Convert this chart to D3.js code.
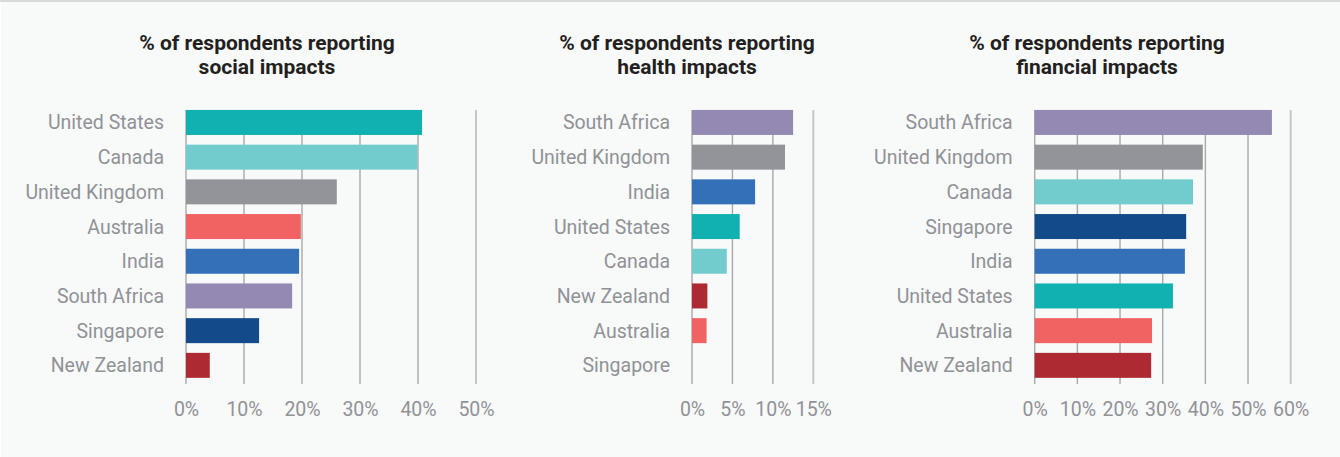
<!DOCTYPE html>
<html>
<head>
<meta charset="utf-8">
<script src="https://cdn.jsdelivr.net/npm/d3@7"></script>
<style>
  body { margin: 0; background: #fff; }
  svg { display: block; font-family: Roboto, "Noto Sans", sans-serif; }
</style>
</head>
<body>
<div class="chart"></div>
<script>
// data (percent of respondents)
var socialCountries = ["United States", "Canada", "United Kingdom", "Australia", "India", "South Africa", "Singapore", "New Zealand"];
var socialValues = [40.7, 39.9, 26.0, 19.8, 19.5, 18.3, 12.6, 4.1];

var healthCountries = ["South Africa", "United Kingdom", "India", "United States", "Canada", "New Zealand", "Australia", "Singapore"];
var healthValues = [12.5, 11.5, 7.8, 5.9, 4.3, 1.9, 1.8, 0];

var financialCountries = ["South Africa", "United Kingdom", "Canada", "Singapore", "India", "United States", "Australia", "New Zealand"];
var financialValues = [55.6, 39.4, 37.1, 35.5, 35.2, 32.4, 27.5, 27.3];

var socialTicks = [0, 10, 20, 30, 40, 50];
var healthTicks = [0, 5, 10, 15];
var financialTicks = [0, 10, 20, 30, 40, 50, 60];

var countryColor = {
  "United States": "#12b1b1",
  "Canada": "#72cccd",
  "United Kingdom": "#939499",
  "Australia": "#f16262",
  "India": "#3470b7",
  "South Africa": "#9389b2",
  "Singapore": "#134a8a",
  "New Zealand": "#ad2a32"
};

var svgWidth = 1340;
var svgHeight = 457;

var svg = d3.select(".chart")
  .append("svg")
  .attr("width", svgWidth)
  .attr("height", svgHeight);

// background panel and top border
svg.append("rect")
  .attr("x", 1).attr("y", 0)
  .attr("width", svgWidth - 1).attr("height", svgHeight)
  .attr("fill", "#f8f9f9");
svg.append("rect")
  .attr("x", 0).attr("y", 0)
  .attr("width", svgWidth).attr("height", 2)
  .attr("fill", "#d9d9d9");

var panels = [
  { title: ["% of respondents reporting", "social impacts"], cats: socialCountries, vals: socialValues, ticks: socialTicks, x0: 186, x1: 476, cx: 267 },
  { title: ["% of respondents reporting", "health impacts"], cats: healthCountries, vals: healthValues, ticks: healthTicks, x0: 692, x1: 813.3, cx: 687 },
  { title: ["% of respondents reporting", "financial impacts"], cats: financialCountries, vals: financialValues, ticks: financialTicks, x0: 1034.7, x1: 1290.7, cx: 1097 }
];

panels.forEach(function(p) {
  var g = svg.append("g");

  var xScale = d3.scaleLinear()
    .domain([0, d3.max(p.ticks)])
    .range([p.x0, p.x1]);

  var yScale = d3.scaleBand()
    .domain(p.cats)
    .range([105.1, 382.7])
    .paddingInner(0.28)
    .paddingOuter(0.14);

  var gridTop = yScale(p.cats[0]);
  var gridBottom = 384;

  // title
  g.append("text")
    .attr("x", p.cx)
    .attr("y", 50)
    .attr("text-anchor", "middle")
    .attr("font-size", "21px")
    .attr("font-weight", "bold")
    .attr("fill", "#231f20")
    .selectAll("tspan")
    .data(p.title)
    .enter()
    .append("tspan")
    .attr("x", p.cx)
    .attr("dy", (d, i) => i === 0 ? 0 : 24)
    .text(d => d);

  // grid lines
  var last = d3.max(p.ticks);
  g.selectAll(".grid")
    .data(p.ticks)
    .enter()
    .append("line")
    .attr("x1", d => xScale(d))
    .attr("x2", d => xScale(d))
    .attr("y1", gridTop)
    .attr("y2", gridBottom)
    .attr("stroke", d => d === last ? "#c6c6c6" : "#a9a9a9")
    .attr("stroke-width", d => d === last ? 2 : 1.4);

  // tick labels via axis
  var xAxis = d3.axisBottom(xScale)
    .tickValues(p.ticks)
    .tickSize(0)
    .tickPadding(0)
    .tickFormat(d => d + "%");

  var axisG = g.append("g")
    .attr("transform", "translate(0, 402)")
    .call(xAxis);
  axisG.select(".domain").remove();
  axisG.selectAll("text")
    .attr("font-family", "Roboto, sans-serif")
    .attr("font-size", "19.5px")
    .attr("fill", "#909297")
    .attr("dy", "0.71em");

  // bars
  g.selectAll(".bar")
    .data(p.cats)
    .enter()
    .append("rect")
    .attr("x", xScale(0))
    .attr("y", d => yScale(d))
    .attr("width", (d, i) => xScale(p.vals[i]) - xScale(0))
    .attr("height", yScale.bandwidth())
    .attr("fill", d => countryColor[d]);

  // category labels
  g.selectAll(".cat")
    .data(p.cats)
    .enter()
    .append("text")
    .attr("x", p.x0 - 22)
    .attr("y", d => yScale(d) + yScale.bandwidth() / 2)
    .attr("dy", "0.36em")
    .attr("text-anchor", "end")
    .attr("font-size", "19.5px")
    .attr("fill", "#909297")
    .text(d => d);
});
</script>
</body>
</html>
